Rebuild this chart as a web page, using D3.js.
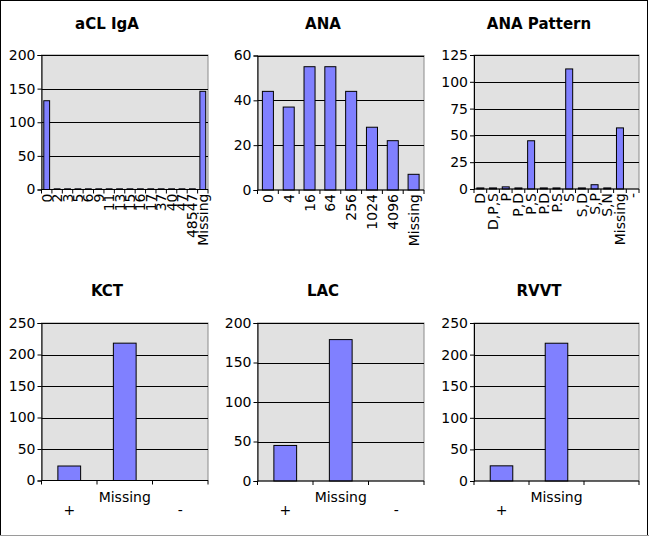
<!DOCTYPE html>
<html><head><meta charset="utf-8">
<script src="https://cdn.jsdelivr.net/npm/d3@7"></script>
<style>
html,body{margin:0;padding:0;background:#fff;}
text{font-family:"DejaVu Sans",Verdana,sans-serif;}
</style></head>
<body><div id="chart"></div>
<script>
// ---- data ----
const aclCategories = ["0","2","3","5","6","9","11","13","15","16","17","37","40","47","48547","Missing"];
const aclValues     = [132,1,1,1,1,1,1,1,1,1,1,1,1,1,1,146];

const anaCategories = ["0","4","16","64","256","1024","4096","Missing"];
const anaValues     = [44,37,55,55,44,28,22,7];

const patternCategories = ["D","D,P,S","P","P,D","P,S","P.D","P.S","S","S,D","S,P","S,N","Missing","-"];
const patternValues     = [1,1,2,1,45,1,1,112,1,4,1,57,0];

const testCategories = ["+","Missing","-"];
const kctValues  = [23,218,0];
const lacValues  = [45,179,0];
const rvvtValues = [24,218,0];

const aclTicks = [0,50,100,150,200];
const anaTicks = [0,20,40,60];
const patternTicks = [0,25,50,75,100,125];
const test250Ticks = [0,50,100,150,200,250];
const test200Ticks = [0,50,100,150,200];

// ---- layout ----
const W = 649, H = 537;
const panels = [
  {title:"aCL IgA", cats:aclCategories, vals:aclValues, ticks:aclTicks, tx:107, ty:29,
   box:{x0:41.5,x1:208,y0:55,y1:189.5}, frac:0.56, rotate:true},
  {title:"ANA", cats:anaCategories, vals:anaValues, ticks:anaTicks, tx:323, ty:29,
   box:{x0:257.5,x1:424,y0:55.5,y1:190}, frac:0.53, rotate:true},
  {title:"ANA Pattern", cats:patternCategories, vals:patternValues, ticks:patternTicks, tx:539, ty:29,
   box:{x0:474,x1:639,y0:55,y1:189}, frac:0.55, rotate:true},
  {title:"KCT", cats:testCategories, vals:kctValues, ticks:test250Ticks, tx:107, ty:296,
   box:{x0:41.5,x1:208,y0:323,y1:480.5}, frac:0.41, rotate:false},
  {title:"LAC", cats:testCategories, vals:lacValues, ticks:test200Ticks, tx:323, ty:296,
   box:{x0:257.5,x1:424,y0:323,y1:481}, frac:0.41, rotate:false},
  {title:"RVVT", cats:testCategories, vals:rvvtValues, ticks:test250Ticks, tx:539, ty:296,
   box:{x0:474,x1:639,y0:323,y1:481}, frac:0.41, rotate:false, hide:["-"]}
];

const svg = d3.select("#chart").append("svg").attr("width",W).attr("height",H);
svg.append("rect").attr("x",0).attr("y",0).attr("width",W).attr("height",H).attr("fill","#fff");

panels.forEach(p => {
  const g = svg.append("g");
  const b = p.box;
  const x = d3.scaleBand().domain(p.cats).range([b.x0,b.x1]).padding(0);
  const y = d3.scaleLinear().domain([0,d3.max(p.ticks)]).range([b.y1,b.y0]);

  // plot background
  g.append("rect").attr("x",b.x0).attr("y",b.y0).attr("width",b.x1-b.x0).attr("height",b.y1-b.y0)
    .attr("fill","#e1e1e1").attr("stroke","#8a8a8a").attr("stroke-width",1);

  // gridlines
  g.selectAll(".grid").data(p.ticks.filter(t=>t>0)).join("line")
    .attr("x1",b.x0).attr("x2",b.x1).attr("y1",d=>Math.round(y(d))+0.5).attr("y2",d=>Math.round(y(d))+0.5)
    .attr("stroke","#000").attr("stroke-width",1);

  // bars
  const bw = x.bandwidth()*p.frac;
  g.selectAll(".bar").data(p.cats.map((c,i)=>({c,v:p.vals[i]})).filter(d=>d.v>0)).join("rect")
    .attr("x",d=>x(d.c)+(x.bandwidth()-bw)/2)
    .attr("width",bw)
    .attr("y",d=>y(d.v))
    .attr("height",d=>y(0)-y(d.v))
    .attr("fill","#8080ff").attr("stroke","#000").attr("stroke-width",1);

  // y axis
  const ya = d3.axisLeft(y).tickValues(p.ticks).tickSize(4).tickPadding(2).tickFormat(d3.format("d"));
  const yg = g.append("g").attr("transform",`translate(${b.x0},0)`).call(ya);
  yg.select(".domain").attr("stroke","#000");
  yg.selectAll("text").attr("font-size","14px").attr("fill","#000").attr("font-family","DejaVu Sans, sans-serif");

  // x axis line and boundary ticks
  g.append("line").attr("x1",b.x0).attr("x2",b.x1).attr("y1",y(0)).attr("y2",y(0)).attr("stroke","#000");
  const bounds = p.cats.map(c=>x(c)).concat([b.x1]);
  g.selectAll(".xt").data(bounds).join("line")
    .attr("x1",d=>d).attr("x2",d=>d).attr("y1",y(0)).attr("y2",y(0)+4).attr("stroke","#000");

  // x labels
  if (p.rotate) {
    g.selectAll(".xl").data(p.cats).join("text")
      .attr("transform",d=>`translate(${x(d)+x.bandwidth()/2},${y(0)+4}) rotate(-90)`)
      .attr("text-anchor","end").attr("dy","0.36em")
      .attr("font-size","14px").text(d=>d);
  } else {
    g.selectAll(".xl").data(p.cats.filter(c=>!(p.hide||[]).includes(c))).join("text")
      .attr("x",d=>x(d)+x.bandwidth()/2)
      .attr("y",d=>y(0)+ (p.cats.indexOf(d)%2===1 ? 21 : 34))
      .attr("text-anchor","middle").attr("font-size","14px").text(d=>d);
  }

  // title
  g.append("text").attr("x",p.tx).attr("y",p.ty).attr("text-anchor","middle")
    .attr("font-size","15px").attr("font-weight","bold").text(p.title);
});

// outer frame
svg.append("rect").attr("x",0.5).attr("y",0.5).attr("width",W-2).attr("height",H-2)
  .attr("fill","none").attr("stroke","#000").attr("stroke-width",1);
svg.append("line").attr("x1",0).attr("x2",W).attr("y1",H-1.5).attr("y2",H-1.5).attr("stroke","#9a9a9a");
</script></body></html>
